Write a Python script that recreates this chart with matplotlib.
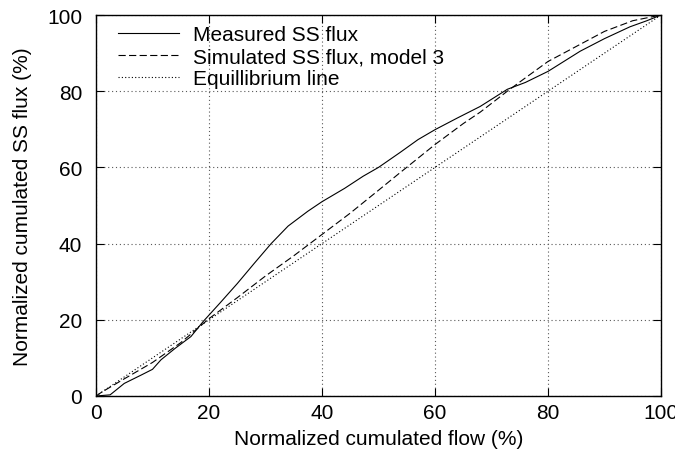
import matplotlib
matplotlib.use("Agg")
import matplotlib.pyplot as plt

plt.rcParams['font.family'] = ['Liberation Sans', 'DejaVu Sans']

# Measured SS flux (normalized cumulated flow %, normalized cumulated SS flux %)
measured_x = [0, 2.5, 5, 8, 10, 11.5, 14, 16.8, 19, 22, 25, 28, 31, 34, 37.5, 40,
              44, 47.3, 50, 53.8, 57, 60, 64, 68, 72.8, 76, 80, 85.7, 90, 94.5, 97.5, 100]
measured_y = [0, 0.3, 3.3, 5.5, 7, 9.5, 12.5, 15.6, 19.6, 24.5, 29.5, 34.8, 40, 44.6, 48.5, 51,
              54.5, 57.7, 60, 63.9, 67.3, 69.9, 73, 76, 80.5, 82.3, 85.2, 90.5, 93.8, 96.9, 98.5, 100]

# Simulated SS flux, model 3
sim_x = [0, 1, 5, 10, 15, 17, 20, 25, 30, 35, 40, 45, 50, 53.8, 60, 65, 68, 72.8,
         76, 80, 85.7, 90, 95, 100]
sim_y = [0, 1, 4.5, 8.8, 14, 16.5, 20.3, 25.8, 31.5, 36.8, 42.4, 48, 54, 58.6, 66, 71.5, 74.5, 80,
         83.5, 87.8, 92.3, 95.7, 98.5, 100]

# Equilibrium line
eq_x = [0, 100]
eq_y = [0, 100]

ticks = [0, 20, 40, 60, 80, 100]

fig = plt.figure(figsize=(6.75, 4.64), dpi=100)
ax = fig.add_axes([96 / 675, 67 / 464, 565 / 675, 381 / 464])

ax.plot(measured_x, measured_y, color="black", lw=0.8, label="Measured SS flux")
ax.plot(sim_x, sim_y, color="black", lw=0.8, dashes=(6.5, 3),
        label="Simulated SS flux, model 3")
ax.plot(eq_x, eq_y, color="black", lw=0.8, dashes=(1, 2), label="Equillibrium line")

ax.set_xlim(0, 100)
ax.set_ylim(0, 100)
ax.set_xticks(ticks)
ax.set_yticks(ticks)
ax.grid(True, color="0.35", lw=0.8, dashes=(1, 2.5))
ax.tick_params(direction="in", length=6, width=0.8, top=True, right=True, labelsize=15)
ax.tick_params(axis="y", pad=10)
ax.tick_params(axis="x", pad=5)
for s in ax.spines.values():
    s.set_linewidth(1.0)

ax.set_xlabel("Normalized cumulated flow (%)", fontsize=15, labelpad=5)
ax.set_ylabel("Normalized cumulated SS flux (%)", fontsize=15, labelpad=11)

ax.legend(loc="upper left", bbox_to_anchor=(0.017, 1.006), frameon=False, fontsize=15,
          handlelength=2.9, handletextpad=0.7, labelspacing=0.15, borderaxespad=0.2)

fig.savefig("out.png", dpi=100)
